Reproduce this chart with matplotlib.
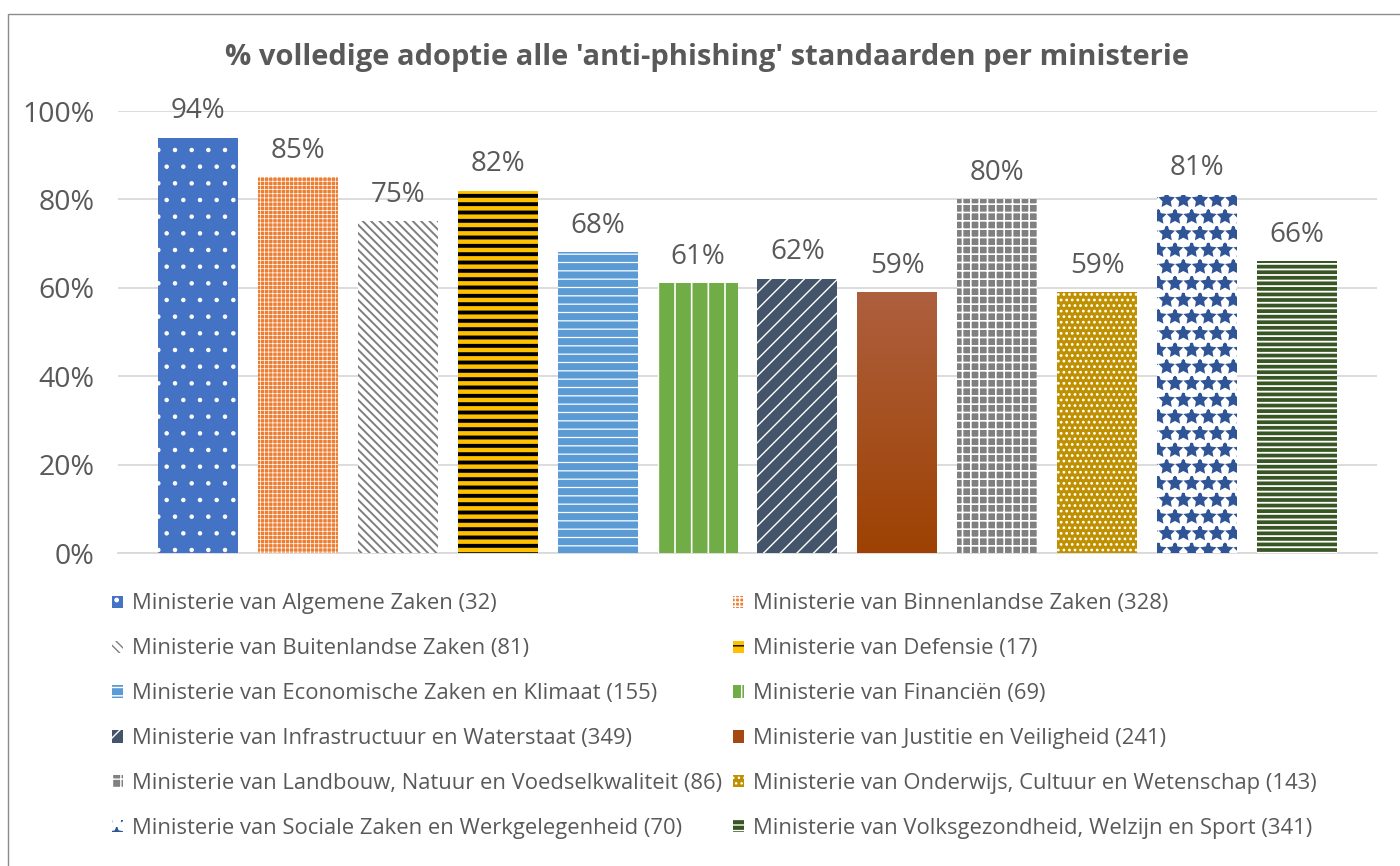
import numpy as np
import matplotlib
matplotlib.use("Agg")
import matplotlib.pyplot as plt
from matplotlib.patches import Patch, Rectangle
from matplotlib.colors import LinearSegmentedColormap
from matplotlib.ticker import FuncFormatter

plt.rcParams['font.family'] = ['Open Sans', 'DejaVu Sans']

# ---- data ----
ministeries = [
    "Ministerie van Algemene Zaken (32)",
    "Ministerie van Binnenlandse Zaken (328)",
    "Ministerie van Buitenlandse Zaken (81)",
    "Ministerie van Defensie (17)",
    "Ministerie van Economische Zaken en Klimaat (155)",
    "Ministerie van Financiën (69)",
    "Ministerie van Infrastructuur en Waterstaat (349)",
    "Ministerie van Justitie en Veiligheid (241)",
    "Ministerie van Landbouw, Natuur en Voedselkwaliteit (86)",
    "Ministerie van Onderwijs, Cultuur en Wetenschap (143)",
    "Ministerie van Sociale Zaken en Werkgelegenheid (70)",
    "Ministerie van Volksgezondheid, Welzijn en Sport (341)",
]
adoptie_pct = [94, 85, 75, 82, 68, 61, 62, 59, 80, 59, 81, 66]
yticks_pct = [0, 20, 40, 60, 80, 100]
title = "% volledige adoptie alle 'anti-phishing' standaarden per ministerie"

# ---- styles: (face, hatch, hatch colour, hatch linewidth) ----
styles = [
    ("#4472C4", ".", "white", 0.8),
    ("#ED7D31", "++++", "white", 0.5),
    ("white", "\\\\\\\\", "#7F7F7F", 1.4),
    ("#FFC000", "--", "black", 2.8),
    ("#5B9BD5", "--", "white", 0.9),
    ("#70AD47", "|", "white", 1.2),
    ("#44546A", "//", "white", 1.0),
    ("gradient", None, None, 0),
    ("#808080", "++", "white", 1.2),
    ("#BF9000", "...", "white", 1.2),
    ("white", "*", "#2F5597", 2.0),
    ("#375623", "---", "white", 1.3),
]
grad_top, grad_bot = "#AE5F3E", "#9E4203"

TXT = "#595959"
W, H = 1400, 866
fig = plt.figure(figsize=(W / 100, H / 100), dpi=100)

def fx(x):
    return x / W

def fy(y):
    return 1 - y / H

# outer frame
fig.patches.append(Rectangle((fx(8), fy(880)), fx(1420) - fx(8), fy(13.5) - fy(880),
                             transform=fig.transFigure, fill=False,
                             edgecolor="#8C8C8C", lw=1.0))

ax = fig.add_axes([fx(118), fy(553), fx(1377) - fx(118), fy(111) - fy(553)])

x = np.arange(len(adoptie_pct))
vals = np.array(adoptie_pct) / 100.0
bars = ax.bar(x, vals, width=0.8, zorder=3, linewidth=0)

handles = []
for b, (face, hatch, hc, hlw) in zip(bars, styles):
    if face == "gradient":
        b.set_facecolor(grad_bot)
        cmap = LinearSegmentedColormap.from_list("g", [grad_bot, grad_top])
        grad = np.linspace(0, 1, 256).reshape(-1, 1)
        im = ax.imshow(grad, extent=[b.get_x(), b.get_x() + b.get_width(), 0, b.get_height()],
                       origin="lower", aspect="auto", cmap=cmap, zorder=3.5)
        im.set_clip_path(b)
        handles.append(Patch(facecolor="#A54814", edgecolor="none"))
    else:
        b.set_facecolor(face)
        b.set_edgecolor(hc)
        b.set_hatch(hatch)
        b.set_linewidth(0)
        if hasattr(b, "set_hatch_linewidth"):
            b.set_hatch_linewidth(hlw)
        h = Patch(facecolor=face, edgecolor=hc, hatch=hatch, linewidth=0)
        if hasattr(h, "set_hatch_linewidth"):
            h.set_hatch_linewidth(min(hlw, 1.5))
        handles.append(h)

for i, v in enumerate(adoptie_pct):
    ax.annotate(f"{v}%", (x[i], v / 100.0), xytext=(0, 9), textcoords="offset points",
                ha="center", va="bottom", fontsize=20, color=TXT)

ax.set_xlim(-0.8, len(x) - 1 + 0.8)
ax.set_ylim(0, 1.0)
ax.set_yticks([t / 100 for t in yticks_pct])
ax.yaxis.set_major_formatter(FuncFormatter(lambda v, p: f"{v*100:.0f}%"))
ax.set_xticks([])
ax.tick_params(axis="y", length=0, pad=17, labelsize=20.5, labelcolor=TXT)
ax.grid(axis="y", color="#D9D9D9", lw=1.3, zorder=0)
for s in ["top", "right", "left"]:
    ax.spines[s].set_visible(False)
ax.spines["bottom"].set_color("#D9D9D9")
ax.spines["bottom"].set_linewidth(1.3)
ax.set_facecolor("none")

fig.text(fx(707), fy(57), title, ha="center", va="center", fontsize=21,
         fontweight="bold", color=TXT)

# legend: two columns, row-major order
leg_kw = dict(loc="upper left", frameon=False, fontsize=15.8, labelcolor=TXT,
              handlelength=0.48, handleheight=0.48, handletextpad=0.45,
              labelspacing=1.09, borderpad=0, borderaxespad=0)
left_idx = list(range(0, 12, 2))
right_idx = list(range(1, 12, 2))
fig.legend([handles[i] for i in left_idx], [ministeries[i] for i in left_idx],
           bbox_to_anchor=(fx(112), fy(593.5)), **leg_kw)
fig.legend([handles[i] for i in right_idx], [ministeries[i] for i in right_idx],
           bbox_to_anchor=(fx(733), fy(593.5)), **leg_kw)

fig.savefig("out.png", dpi=100)
